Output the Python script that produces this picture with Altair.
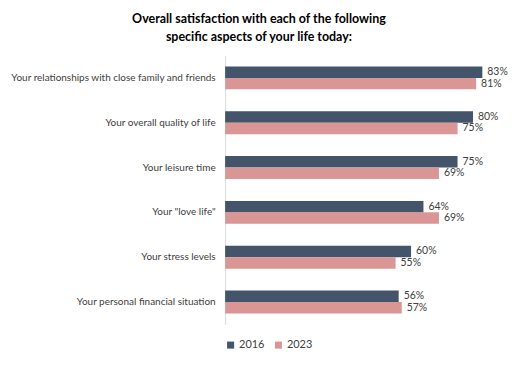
import altair as alt
import pandas as pd

categories = [
    "Your relationships with close family and friends",
    "Your overall quality of life",
    "Your leisure time",
    'Your "love life"',
    "Your stress levels",
    "Your personal financial situation",
]
years = ["2016", "2023"]
values_2016 = [83, 80, 75, 64, 60, 56]
values_2023 = [81, 75, 69, 69, 55, 57]

rows = []
for c, a, b in zip(categories, values_2016, values_2023):
    rows.append({"aspect": c, "year": "2016", "value": a, "label": f"{a}%"})
    rows.append({"aspect": c, "year": "2023", "value": b, "label": f"{b}%"})
df = pd.DataFrame(rows)

colors = ["#44546A", "#D99694"]
font = "Lato"

y_enc = alt.Y(
    "aspect:N",
    sort=categories,
    scale=alt.Scale(paddingInner=0.49, paddingOuter=0.245),
    axis=alt.Axis(
        title=None, ticks=False, domainColor="#D9D9D9", domainWidth=1,
        labelFont=font, labelFontSize=10, labelColor="#404040",
        labelPadding=10, labelLimit=300,
    ),
)
x_enc = alt.X("value:Q", scale=alt.Scale(domain=[0, 90]), axis=None)
yoff = alt.YOffset("year:N", sort=years)

bars = alt.Chart(df).mark_bar(size=11.5).encode(
    y=y_enc,
    x=x_enc,
    yOffset=yoff,
    color=alt.Color(
        "year:N",
        scale=alt.Scale(domain=years, range=colors),
        legend=alt.Legend(
            title=None, orient="none", direction="horizontal",
            legendX=0, legendY=285, symbolType="square", symbolSize=50,
            labelFont=font, labelFontSize=11, labelColor="#404040",
            columnPadding=8, symbolStrokeWidth=0, labelOffset=3,
        ),
    ),
)
texts = alt.Chart(df).mark_text(
    align="left", baseline="middle", dx=5, font=font, fontSize=10.5, color="#404040"
).encode(
    y=alt.Y("aspect:N", sort=categories),
    x=alt.X("value:Q"),
    yOffset=yoff,
    text="label:N",
)

chart = (
    alt.layer(bars, texts)
    .properties(
        width=280,
        height=270,
        title=alt.TitleParams(
            ["Overall satisfaction with each of the following",
             "specific aspects of your life today:"],
            font=font, fontSize=12.5, fontWeight="bold", color="#000000",
            anchor="middle", frame="bounds", offset=12, lineHeight=18,
        ),
        autosize=alt.AutoSizeParams(type="none"),
        padding={"left": 218, "top": 47, "right": 6, "bottom": 27},
    )
    .configure_view(stroke=None)
)
chart.save("out.html", embed_options={"renderer": "svg", "actions": False})
